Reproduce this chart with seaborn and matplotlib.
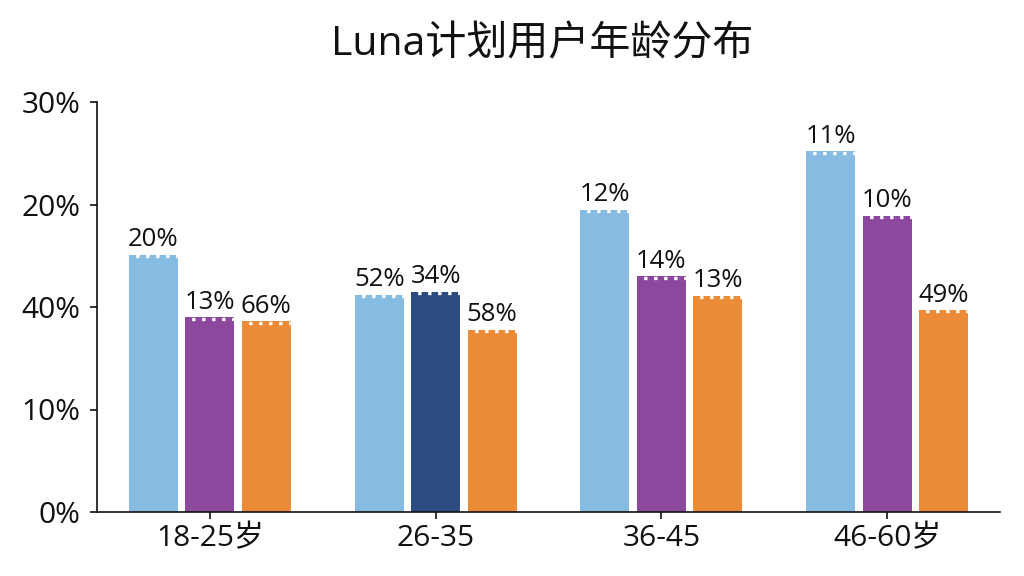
import matplotlib
matplotlib.use("Agg")
import matplotlib.pyplot as plt
import matplotlib.transforms as mtransforms
import seaborn as sns
import pandas as pd

# ---- data ----
title = "Luna计划用户年龄分布"
age_groups = ["18-25岁", "26-35", "36-45", "46-60岁"]
series_names = ["系列1", "系列2", "系列3"]
series1_values = [25.1, 21.2, 29.5, 35.2]
series2_values = [19.0, 21.5, 23.0, 28.9]
series3_values = [18.6, 17.8, 21.1, 19.7]
series1_labels = ["20%", "52%", "12%", "11%"]
series2_labels = ["13%", "34%", "14%", "10%"]
series3_labels = ["66%", "58%", "13%", "49%"]
y_tick_values = [0, 10, 20, 30, 40]
y_tick_labels = ["0%", "10%", "40%", "20%", "30%"]

colors = ["#86BCE1", "#8C489D", "#EC8B37"]
highlight_color = "#2C4B80"  # 26-35, series 2

sns.set_style("white")
plt.rcParams["font.family"] = ["Open Sans", "Noto Sans CJK SC", "DejaVu Sans"]

rows = []
for name, vals, labs in zip(series_names,
                            [series1_values, series2_values, series3_values],
                            [series1_labels, series2_labels, series3_labels]):
    for g, v, l in zip(age_groups, vals, labs):
        rows.append({"age": g, "series": name, "value": v, "label": l})
df = pd.DataFrame(rows)

fig = plt.figure(figsize=(10.24, 5.76), dpi=100)
ax = fig.add_axes([97 / 1024, 1 - 512 / 576, (1000 - 97) / 1024, (512 - 102) / 576])

sns.barplot(data=df, x="age", y="value", hue="series", order=age_groups,
            hue_order=series_names, palette=colors, width=0.75, gap=0.13,
            legend=False, errorbar=None, ax=ax, saturation=1)

ax.set_xlim(-0.5, 3.5)
ax.set_ylim(0, 40)
ax.set_yticks(y_tick_values)
ax.set_yticklabels(y_tick_labels)
ax.set_xlabel("")
ax.set_ylabel("")

for s in ["top", "right"]:
    ax.spines[s].set_visible(False)
for s in ["left", "bottom"]:
    ax.spines[s].set_color("#111111")
    ax.spines[s].set_linewidth(1.2)

ax.tick_params(axis="y", length=5, width=1.2, color="#111111", labelsize=21.5,
               pad=7, left=True, labelcolor="#111111")
ax.tick_params(axis="x", length=5, width=1.2, color="#111111", labelsize=21.5,
               pad=4, bottom=True, labelcolor="#111111")

label_map = {(r.age, r.series): r.label for r in df.itertuples()}
offset = mtransforms.ScaledTranslation(0, -0.014, fig.dpi_scale_trans)
for p in ax.patches:
    h = p.get_height()
    if h <= 0:
        continue
    x0, w = p.get_x(), p.get_width()
    cx = x0 + w / 2
    cat = int(round(cx))
    hue_idx = int(round((cx - cat) / 0.25)) + 1
    if cat == 1 and hue_idx == 1:
        p.set_facecolor(highlight_color)
    p.set_edgecolor("none")
    ax.plot([x0, x0 + w], [h, h], color="white", lw=2.4,
            linestyle=(1, (1, 2.0)), dash_capstyle="butt",
            transform=ax.transData + offset, zorder=5)
    lab = label_map[(age_groups[cat], series_names[hue_idx])]
    ax.annotate(lab, (cx, h), xytext=(0, 6), textcoords="offset points",
                ha="center", va="baseline", fontsize=18.5, color="#111111")

fig.text(542 / 1024, 1 - 45 / 576, title, ha="center", va="center",
         fontsize=29.5, color="#111111")

fig.savefig("out.png", dpi=100)
